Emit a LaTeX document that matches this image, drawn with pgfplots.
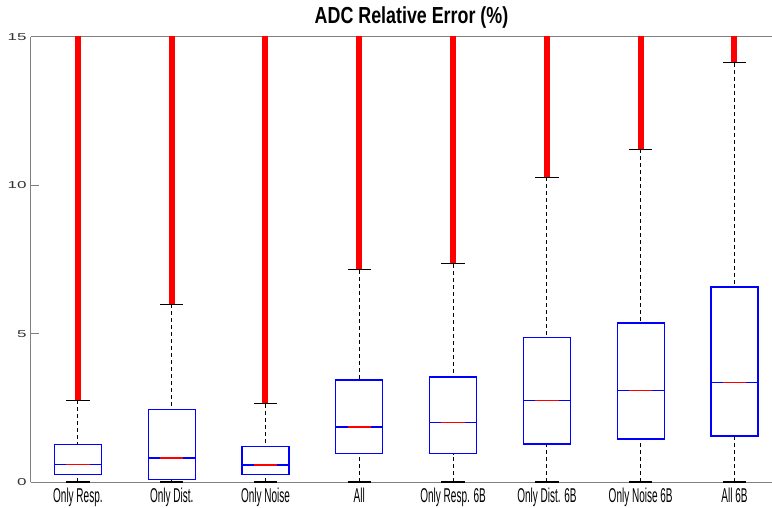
\documentclass[border=0pt]{standalone}
\usepackage{pgfplots}
\pgfplotsset{compat=1.18}
\usepgfplotslibrary{statistics}
\usepackage{fontspec}
\setmainfont{Liberation Sans}
\newfontfamily\xtf[FakeStretch=0.5]{Liberation Sans}
\newfontfamily\ytf[FakeStretch=1.7]{Liberation Sans}
\newfontfamily\ttf[FakeStretch=0.77]{Liberation Sans Bold}
\definecolor{axgray}{RGB}{128,128,128}
\definecolor{mblue}{RGB}{0,0,255}
\definecolor{mred}{RGB}{255,0,0}
\pgfplotsset{
  mybox/.style={
    mblue, line width=1.2bp,
    boxplot/draw direction=y,
    boxplot/box extend=0.5,
    boxplot/whisker extend=0.25,
    boxplot/draw/median/.code={%
      \draw[mblue, line width=1.4bp] (boxplot box cs:\pgfplotsboxplotvalue{median},0) -- (boxplot box cs:\pgfplotsboxplotvalue{median},1);
      \draw[mred, line width=1.4bp] (boxplot box cs:\pgfplotsboxplotvalue{median},0.25) -- (boxplot box cs:\pgfplotsboxplotvalue{median},0.75);
    },
    boxplot/draw/upper whisker/.code={%
      \draw[black, line width=0.9bp, dash pattern=on 4bp off 3bp] (boxplot box cs:\pgfplotsboxplotvalue{upper whisker},0.5) -- (boxplot box cs:\pgfplotsboxplotvalue{upper quartile},0.5);
      \draw[black, line width=1bp] (boxplot whisker cs:\pgfplotsboxplotvalue{upper whisker},0) -- (boxplot whisker cs:\pgfplotsboxplotvalue{upper whisker},1);
    },
    boxplot/draw/lower whisker/.code={%
      \draw[black, line width=0.9bp, dash pattern=on 4bp off 3bp] (boxplot box cs:\pgfplotsboxplotvalue{lower whisker},0.5) -- (boxplot box cs:\pgfplotsboxplotvalue{lower quartile},0.5);
      \draw[black, line width=1.2bp] (boxplot whisker cs:\pgfplotsboxplotvalue{lower whisker},0) -- (boxplot whisker cs:\pgfplotsboxplotvalue{lower whisker},1);
    },
  },
  outl/.style={mred, line width=6bp, forget plot},
}
\begin{document}
\begin{tikzpicture}
\begin{axis}[
  name=ax,
  scale only axis,
  width=741bp, height=445bp,
  xmin=0.5, xmax=8.4,
  ymin=0, ymax=15,
  clip=false,
  axis x line=box, axis y line=left,
  axis line style={-, axgray, line width=1bp},
  xtick={1,2,3,4,5,6,7,8},
  xticklabels={Only Resp.,Only Dist.,Only Noise,All,Only Resp. 6B,Only Dist. 6B,Only Noise 6B,All 6B},
  xtick style={draw=none},
  xticklabel style={font=\xtf\fontsize{20bp}{21bp}\selectfont, anchor=base, yshift=-20.7bp, text=black},
  ytick={0,5,10,15},
  yticklabels={0,5,10,15},
  ytick pos=left,
  tick align=inside,
  major tick length=8bp,
  ytick style={axgray, line width=1bp},
  yticklabel style={font=\ytf\fontsize{10bp}{11bp}\selectfont, text=black!80, xshift=-1bp},
  title={ADC Relative Error (\%)},
  title style={font=\ttf\fontsize{23.2bp}{24bp}\selectfont, at={(0.5,1)}, anchor=base, yshift=7.5bp, xshift=10bp},
]
% outliers (dense red '+' markers drawn as a thick red band)
\addplot[outl] coordinates {(1,2.75) (1,15.05)};
\addplot[outl] coordinates {(2,6.00) (2,15.05)};
\addplot[outl] coordinates {(3,2.63) (3,15.05)};
\addplot[outl] coordinates {(4,7.15) (4,15.05)};
\addplot[outl] coordinates {(5,7.35) (5,15.05)};
\addplot[outl] coordinates {(6,10.28) (6,15.05)};
\addplot[outl] coordinates {(7,11.22) (7,15.05)};
\addplot[outl] coordinates {(8,14.13) (8,15.05)};
% boxes
\addplot[mybox, boxplot prepared={draw position=1, lower whisker=0, lower quartile=0.26, median=0.60, upper quartile=1.26, upper whisker=2.75}] coordinates {};
\addplot[mybox, boxplot prepared={draw position=2, lower whisker=0, lower quartile=0.09, median=0.81, upper quartile=2.45, upper whisker=6.00}] coordinates {};
\addplot[mybox, boxplot prepared={draw position=3, lower whisker=0, lower quartile=0.26, median=0.57, upper quartile=1.21, upper whisker=2.63}] coordinates {};
\addplot[mybox, boxplot prepared={draw position=4, lower whisker=0, lower quartile=0.97, median=1.85, upper quartile=3.44, upper whisker=7.15}] coordinates {};
\addplot[mybox, boxplot prepared={draw position=5, lower whisker=0, lower quartile=0.95, median=2.01, upper quartile=3.54, upper whisker=7.35}] coordinates {};
\addplot[mybox, boxplot prepared={draw position=6, lower whisker=0, lower quartile=1.28, median=2.74, upper quartile=4.88, upper whisker=10.28}] coordinates {};
\addplot[mybox, boxplot prepared={draw position=7, lower whisker=0, lower quartile=1.45, median=3.08, upper quartile=5.36, upper whisker=11.22}] coordinates {};
\addplot[mybox, boxplot prepared={draw position=8, lower whisker=0, lower quartile=1.55, median=3.35, upper quartile=6.57, upper whisker=14.13}] coordinates {};
\end{axis}
\pgfresetboundingbox
\path[use as bounding box] ([xshift=-31bp,yshift=-25bp]ax.south west) rectangle ([yshift=37bp]ax.north east);
\end{tikzpicture}
\end{document}
